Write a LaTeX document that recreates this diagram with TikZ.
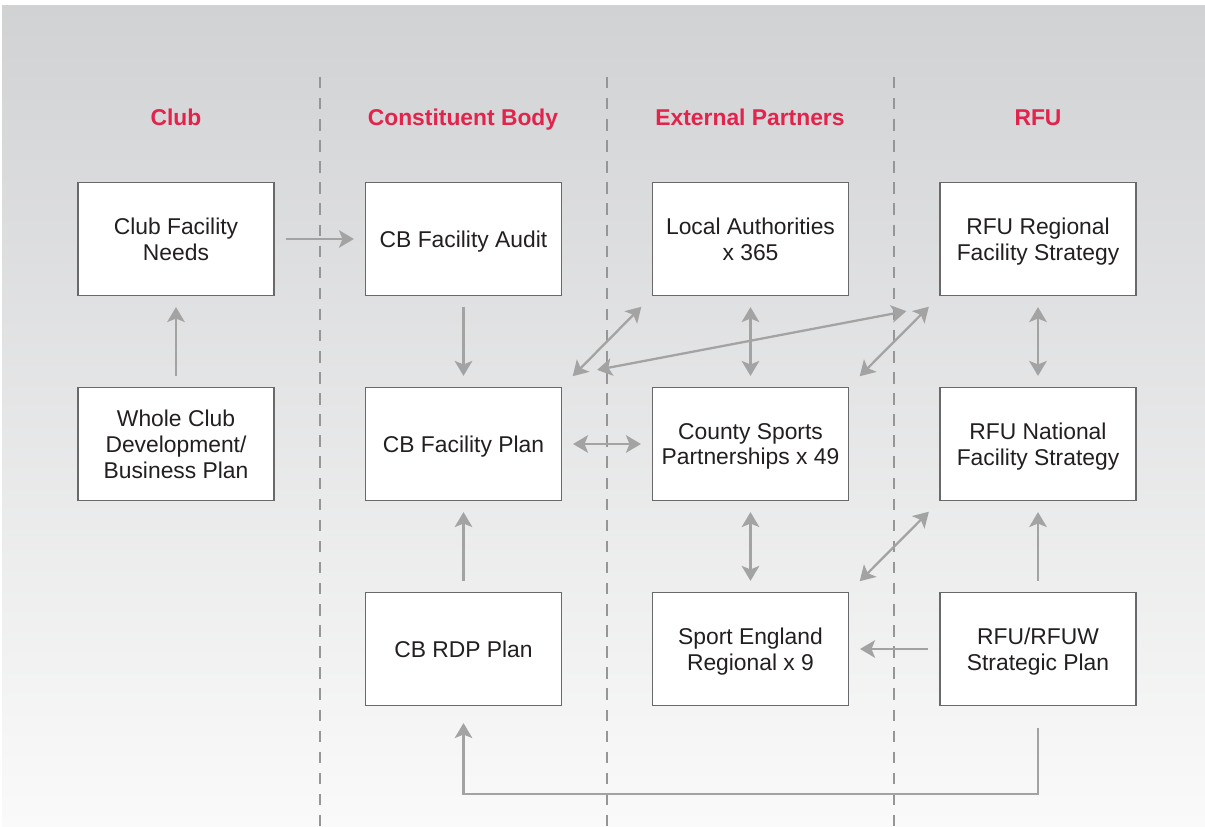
\documentclass[tikz,border=0pt]{standalone}
\usepackage{fontspec}
\setmainfont{Liberation Sans}
\usetikzlibrary{arrows.meta}
\definecolor{rfured}{RGB}{226,35,76}
\definecolor{linegray}{RGB}{163,163,163}
\definecolor{boxgray}{RGB}{105,105,107}
\definecolor{sepgray}{RGB}{150,150,152}
\definecolor{textdark}{RGB}{35,31,32}

\begin{document}
\begin{tikzpicture}[x=0.02cm,y=-0.02cm,
        >={Stealth[length=8.5pt,width=10pt,inset=2pt]}]

        \useasboundingbox (0,0) rectangle (1205,827);
        \shade[top color={rgb,255:red,209;green,210;blue,212}, bottom color={rgb,255:red,250;green,250;blue,250}]
          (2,6) rectangle (1205,827);

        \begin{scope}[sepgray, line width=1.2pt, dash pattern=on 6.5pt off 5.5pt]
          \draw (320,77) -- (320,827);
          \draw (607,77) -- (607,827);
          \draw (894,77) -- (894,827);
        \end{scope}

        \begin{scope}[every node/.style={anchor=base, text=rfured, font=\bfseries\fontsize{13}{15}\selectfont}]
          \node (club) at (176,126)  {Club};
          \node (cb)   at (463,126)  {Constituent Body};
          \node (ext)  at (750,126)  {External Partners};
          \node (rfu)  at (1038,126) {RFU};
        \end{scope}

        \begin{scope}[every node/.style={draw=boxgray, fill=white, line width=0.7pt,
            minimum width=3.92cm, minimum height=2.26cm, inner sep=0pt, align=center,
            text depth=0pt, text=textdark, font=\fontsize{13}{14.7}\selectfont}]
          \node (needs)  at (176,239)   {Club Facility\\Needs};
          \node (whole)  at (176,444)   {Whole Club\\Development/\\Business Plan};
          \node (audit)  at (463.5,239) {CB Facility Audit};
          \node (cbplan) at (463.5,444) {CB Facility Plan};
          \node (rdp)    at (463.5,649) {CB RDP Plan};
          \node (local)  at (750.5,239) {Local Authorities\\x 365};
          \node (csp)    at (750.5,444) {County Sports\\Partnerships x 49};
          \node (se)     at (750.5,649) {Sport England\\Regional x 9};
          \node (rfureg) at (1038,239)  {RFU Regional\\Facility Strategy};
          \node (rfunat) at (1038,444)  {RFU National\\Facility Strategy};
          \node (rfuw)   at (1038,649)  {RFU/RFUW\\Strategic Plan};
        \end{scope}

        \begin{scope}[every edge/.style={draw=linegray, line width=1.3pt,
            shorten <=0.22cm, shorten >=0.22cm}]
          \path (needs)  edge[->]  (audit);
          \path (whole)  edge[->]  (needs);
          \path (audit)  edge[->]  (cbplan);
          \path (rdp)    edge[->]  (cbplan);
          \path (cbplan) edge[<->] (csp);
          \path (local)  edge[<->] (csp);
          \path (csp)    edge[<->] (se);
          \path (rfureg) edge[<->] (rfunat);
          \path (rfuw)   edge[->]  (rfunat);
          \path (rfuw)   edge[->]  (se);
          \path (cbplan.north east) edge[<->, shorten <=0.3cm, shorten >=0.3cm] (local.south west);
          \path (csp.north east)    edge[<->, shorten <=0.3cm, shorten >=0.3cm] (rfureg.south west);
          \path (se.north east)     edge[<->, shorten <=0.3cm, shorten >=0.3cm] (rfunat.south west);
          \path ([shift={(35,-17)}]cbplan.north east) edge[<->, shorten <=0pt, shorten >=0pt]
            ([shift={(-33,15)}]rfureg.south west);
        \end{scope}

        \draw[draw=linegray, line width=1.3pt, ->, shorten <=0.44cm, shorten >=0.34cm]
          (rfuw.south) -- ++(0,88) -| (rdp.south);

      \end{tikzpicture}
\end{document}
